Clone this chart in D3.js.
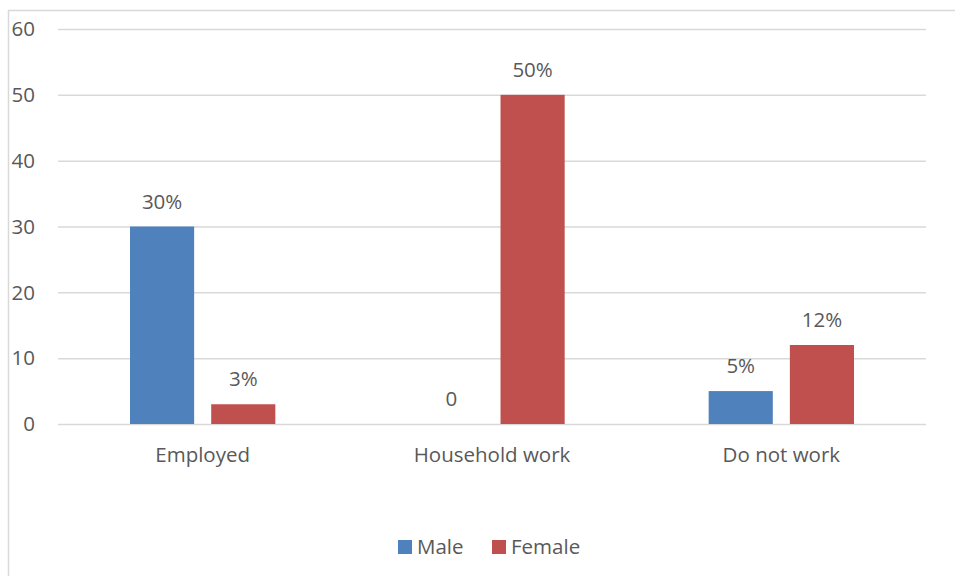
<!DOCTYPE html>
<html>
<head>
<meta charset="utf-8">
<script src="https://cdn.jsdelivr.net/npm/d3@7"></script>
<style>
  body { margin: 0; background: #fff; }
  text { font-family: "Open Sans", "Noto Sans", sans-serif; fill: #595959; }
</style>
</head>
<body>
<svg id="chart"></svg>
<script>
const categories = ["Employed", "Household work", "Do not work"];
const seriesNames = ["Male", "Female"];
const maleValues = [30, 0, 5];
const femaleValues = [3, 50, 12];
const maleLabels = ["30%", "0", "5%"];
const femaleLabels = ["3%", "50%", "12%"];
const yTicks = [0, 10, 20, 30, 40, 50, 60];
const colors = ["#4F81BD", "#C0504D"];

const svg_width = 955, svg_height = 576;
const margin = {top: 29, right: 29, bottom: 152, left: 58},
      width = svg_width - margin.left - margin.right,
      height = svg_height - margin.top - margin.bottom;
const fontSize = "20.5px";

const svg = d3.select("#chart")
  .attr("width", svg_width)
  .attr("height", svg_height);

// outer chart border (only left/top visible in reference)
svg.append("rect")
  .attr("x", 8.5).attr("y", 10.5)
  .attr("width", 960).attr("height", 600)
  .style("fill", "none")
  .style("stroke", "#d9d9d9")
  .style("stroke-width", 1.5);

const chart = svg.append("g")
  .attr("transform", `translate(${margin.left},${margin.top})`);

const yScale = d3.scaleLinear().domain([0, 60]).range([height, 0]);
const xScale = d3.scaleBand().domain(categories).range([0, width]).paddingInner(0).paddingOuter(0);
const inner = d3.scaleBand().domain(seriesNames).range([72, xScale.bandwidth() - 72]).paddingInner(0.21);

// gridlines
chart.append("g")
  .call(d3.axisLeft(yScale).tickValues(yTicks).tickSize(-width).tickFormat(""))
  .call(g => g.select(".domain").remove())
  .selectAll("line")
    .style("stroke", "#d9d9d9")
    .style("stroke-width", 1.5);

// y tick labels
chart.append("g")
  .selectAll("text")
  .data(yTicks)
  .enter()
    .append("text")
    .attr("x", -23)
    .attr("y", d => yScale(d))
    .attr("dy", "0.35em")
    .style("text-anchor", "end")
    .style("font-size", fontSize)
    .text(d => d);

const rows = categories.map((c, i) => ({
  cat: c,
  vals: [
    {s: "Male", v: maleValues[i], lbl: maleLabels[i], c: colors[0]},
    {s: "Female", v: femaleValues[i], lbl: femaleLabels[i], c: colors[1]}
  ]
}));

const groups = chart.selectAll(".grp")
  .data(rows)
  .enter()
    .append("g")
    .attr("transform", d => `translate(${xScale(d.cat)},0)`);

groups.selectAll("rect")
  .data(d => d.vals)
  .enter()
    .append("rect")
    .attr("x", d => inner(d.s))
    .attr("y", d => yScale(d.v))
    .attr("width", inner.bandwidth())
    .attr("height", d => height - yScale(d.v))
    .style("fill", d => d.c);

groups.selectAll(".lbl")
  .data(d => d.vals)
  .enter()
    .append("text")
    .attr("x", d => inner(d.s) + inner.bandwidth() / 2)
    .attr("y", d => yScale(d.v) - 25)
    .attr("dy", "0.35em")
    .style("text-anchor", "middle")
    .style("font-size", fontSize)
    .text(d => d.lbl);

// category labels
chart.append("g")
  .selectAll("text")
  .data(categories)
  .enter()
    .append("text")
    .attr("x", d => xScale(d) + xScale.bandwidth() / 2)
    .attr("y", height + 31)
    .attr("dy", "0.35em")
    .style("text-anchor", "middle")
    .style("font-size", fontSize)
    .text(d => d);

// legend
const legend = svg.append("g");
const legendX = [398, 492];
seriesNames.forEach((s, i) => {
  legend.append("rect")
    .attr("x", legendX[i]).attr("y", 540)
    .attr("width", 14).attr("height", 14)
    .style("fill", colors[i]);
  legend.append("text")
    .attr("x", legendX[i] + 19).attr("y", 547)
    .attr("dy", "0.35em")
    .style("font-size", fontSize)
    .text(s);
});
</script>
</body>
</html>
